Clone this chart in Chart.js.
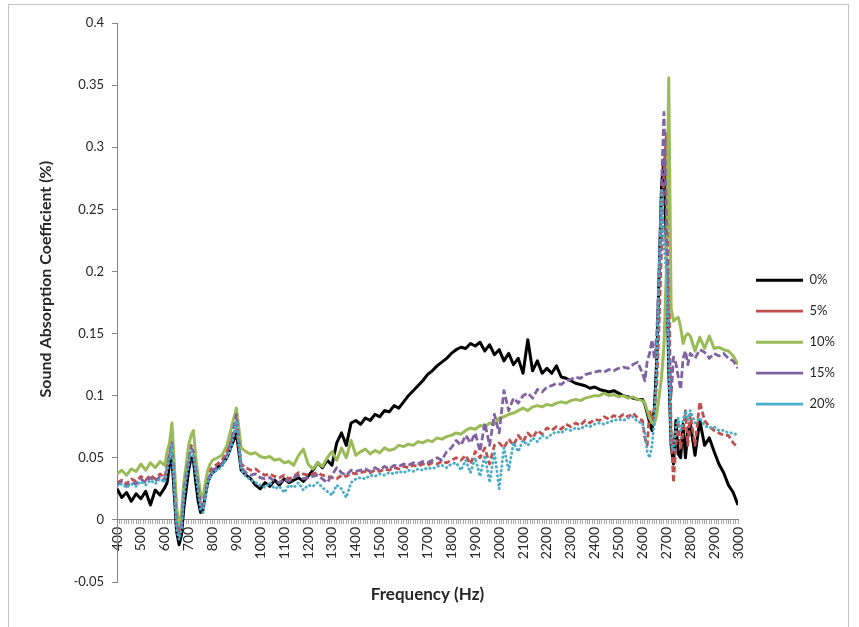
<!DOCTYPE html>
<html><head><meta charset="utf-8">
<script src="https://cdn.jsdelivr.net/npm/chart.js@4"></script>
<style>html,body{margin:0;padding:0;background:#fff}#wrap{width:859px;height:627px;position:relative}</style>
</head><body><div id="wrap"><canvas id="c" width="859" height="627"></canvas></div>
<script>
// Frequencies (Hz)
const freq = [
 400,420,440,460,480,500,520,540,560,580,600,
 610,620,630,640,650,660,670,680,690,700,710,720,730,740,750,760,770,780,790,800,
 820,840,860,880,900,920,940,960,980,1000,
 1020,1040,1060,1080,1100,1120,1140,1160,1180,1200,
 1220,1240,1260,1280,1300,1320,1340,1360,1380,1400,
 1420,1440,1460,1480,1500,1520,1540,1560,1580,1600,
 1620,1640,1660,1680,1700,1720,1740,1760,1780,1800,
 1820,1840,1860,1880,1900,1920,1940,1960,1980,2000,
 2020,2040,2060,2080,2100,2120,2140,2160,2180,2200,
 2220,2240,2260,2280,2300,2320,2340,2360,2380,2400,
 2420,2440,2460,2480,2500,2520,2540,2560,2580,2600,
 2610,2620,2630,2640,2650,2660,2670,2680,2690,2700,2710,2720,2730,2740,2750,2760,2770,2780,2790,
 2800,2820,2840,2860,2880,2900,2920,2940,2960,2980,3000
];
const s0 = [
 0.025,0.018,0.022,0.015,0.021,0.017,0.023,0.012,0.024,0.02,0.026,
 0.03,0.045,0.05,0.02,-0.01,-0.02,-0.012,0.01,0.025,0.04,0.05,0.048,0.03,0.015,0.006,0.008,0.02,0.03,0.035,0.038,
 0.042,0.045,0.05,0.06,0.07,0.04,0.036,0.033,0.028,0.025,
 0.03,0.027,0.032,0.028,0.033,0.03,0.032,0.034,0.031,0.035,
 0.04,0.046,0.042,0.048,0.044,0.062,0.07,0.06,0.078,0.08,
 0.077,0.082,0.08,0.085,0.083,0.088,0.087,0.092,0.09,0.095,
 0.1,0.104,0.108,0.112,0.117,0.12,0.124,0.127,0.13,0.134,
 0.137,0.139,0.138,0.142,0.14,0.143,0.136,0.141,0.133,0.137,
 0.128,0.134,0.125,0.13,0.118,0.145,0.12,0.128,0.118,0.122,
 0.118,0.124,0.115,0.114,0.112,0.11,0.109,0.108,0.106,0.107,
 0.105,0.104,0.103,0.104,0.102,0.1,0.099,0.098,0.097,0.097,
 0.093,0.086,0.078,0.072,0.09,0.13,0.2,0.27,0.29,0.22,0.12,0.06,0.045,0.08,0.053,0.05,0.077,0.05,0.072,
 0.078,0.052,0.08,0.06,0.066,0.055,0.045,0.038,0.028,0.022,0.012
];
const s5 = [
 0.03,0.032,0.029,0.033,0.031,0.035,0.032,0.036,0.033,0.037,0.034,
 0.045,0.055,0.065,0.035,0.0,-0.01,0.0,0.025,0.04,0.05,0.06,0.058,0.045,0.03,0.015,0.012,0.025,0.035,0.04,0.042,
 0.045,0.048,0.055,0.065,0.075,0.045,0.042,0.04,0.041,0.038,
 0.036,0.037,0.035,0.034,0.036,0.033,0.035,0.038,0.037,0.036,
 0.037,0.038,0.036,0.035,0.034,0.033,0.036,0.035,0.038,0.037,
 0.038,0.039,0.038,0.04,0.039,0.041,0.04,0.042,0.041,0.043,
 0.042,0.044,0.043,0.045,0.044,0.046,0.045,0.047,0.046,0.048,
 0.05,0.048,0.052,0.045,0.055,0.05,0.058,0.045,0.06,0.062,
 0.058,0.065,0.06,0.068,0.063,0.07,0.066,0.072,0.069,0.074,
 0.072,0.075,0.073,0.077,0.075,0.078,0.076,0.08,0.078,0.081,
 0.08,0.083,0.081,0.084,0.082,0.085,0.083,0.086,0.082,0.08,
 0.066,0.06,0.088,0.08,0.09,0.11,0.16,0.22,0.28,0.311,0.2,0.07,0.03,0.06,0.077,0.058,0.07,0.088,0.06,
 0.085,0.06,0.095,0.08,0.075,0.072,0.07,0.068,0.068,0.062,0.058
];
const s10 = [
 0.037,0.04,0.036,0.041,0.039,0.045,0.04,0.046,0.042,0.047,0.044,
 0.055,0.062,0.078,0.045,0.01,-0.005,0.005,0.03,0.045,0.06,0.068,0.072,0.05,0.035,0.02,0.018,0.03,0.04,0.045,0.048,
 0.05,0.052,0.06,0.075,0.09,0.058,0.055,0.053,0.054,0.051,
 0.05,0.051,0.048,0.049,0.046,0.047,0.044,0.052,0.057,0.045,
 0.041,0.046,0.043,0.05,0.055,0.048,0.058,0.05,0.064,0.052,
 0.055,0.057,0.053,0.056,0.054,0.058,0.056,0.057,0.06,0.059,
 0.061,0.06,0.063,0.062,0.064,0.063,0.066,0.065,0.067,0.068,
 0.07,0.069,0.072,0.074,0.073,0.076,0.075,0.078,0.077,0.082,
 0.083,0.085,0.086,0.088,0.09,0.088,0.091,0.092,0.091,0.093,
 0.092,0.094,0.095,0.094,0.096,0.097,0.096,0.098,0.099,0.1,
 0.1,0.102,0.1,0.101,0.099,0.1,0.098,0.099,0.097,0.096,
 0.094,0.088,0.082,0.078,0.077,0.085,0.1,0.115,0.14,0.2,0.356,0.17,0.16,0.162,0.163,0.155,0.142,0.148,0.15,
 0.148,0.136,0.147,0.138,0.148,0.138,0.139,0.137,0.136,0.132,0.125
];
const s15 = [
 0.028,0.031,0.027,0.03,0.029,0.033,0.03,0.034,0.031,0.035,0.032,
 0.042,0.052,0.062,0.03,-0.003,-0.012,-0.004,0.022,0.037,0.048,0.058,0.055,0.04,0.027,0.012,0.01,0.022,0.032,0.036,0.04,
 0.042,0.045,0.052,0.065,0.085,0.042,0.038,0.036,0.037,0.034,
 0.033,0.034,0.031,0.03,0.033,0.031,0.034,0.036,0.033,0.034,
 0.035,0.036,0.033,0.03,0.036,0.042,0.038,0.036,0.04,0.039,
 0.04,0.041,0.039,0.042,0.04,0.043,0.041,0.044,0.043,0.045,
 0.044,0.046,0.045,0.047,0.046,0.048,0.05,0.048,0.055,0.058,
 0.064,0.06,0.068,0.062,0.07,0.055,0.078,0.06,0.085,0.07,
 0.104,0.088,0.098,0.094,0.1,0.102,0.098,0.105,0.103,0.107,
 0.108,0.11,0.109,0.112,0.113,0.115,0.114,0.117,0.118,0.119,
 0.12,0.119,0.121,0.12,0.122,0.123,0.122,0.125,0.127,0.118,
 0.112,0.128,0.134,0.145,0.13,0.15,0.2,0.27,0.328,0.25,0.15,0.1,0.131,0.126,0.115,0.105,0.13,0.136,0.125,
 0.134,0.13,0.137,0.135,0.13,0.134,0.132,0.134,0.13,0.128,0.122
];
const s20 = [
 0.027,0.029,0.026,0.029,0.027,0.031,0.028,0.032,0.029,0.033,0.03,
 0.04,0.05,0.06,0.025,-0.008,-0.016,-0.008,0.018,0.033,0.045,0.055,0.052,0.036,0.022,0.008,0.006,0.018,0.03,0.034,0.038,
 0.04,0.043,0.05,0.06,0.08,0.04,0.035,0.032,0.03,0.028,
 0.026,0.03,0.025,0.027,0.022,0.028,0.026,0.03,0.024,0.028,
 0.027,0.03,0.026,0.023,0.02,0.028,0.025,0.018,0.03,0.033,
 0.034,0.033,0.036,0.035,0.037,0.036,0.038,0.037,0.039,0.038,
 0.04,0.039,0.041,0.04,0.042,0.041,0.043,0.044,0.042,0.045,
 0.046,0.04,0.048,0.038,0.05,0.035,0.052,0.03,0.055,0.025,
 0.058,0.04,0.062,0.055,0.064,0.06,0.066,0.063,0.068,0.066,
 0.069,0.071,0.07,0.073,0.072,0.074,0.073,0.076,0.075,0.077,
 0.078,0.077,0.079,0.08,0.081,0.08,0.082,0.083,0.079,0.078,
 0.07,0.055,0.05,0.06,0.08,0.13,0.2,0.265,0.22,0.2,0.12,0.06,0.056,0.075,0.082,0.072,0.08,0.088,0.08,
 0.088,0.078,0.082,0.076,0.074,0.075,0.072,0.072,0.07,0.07,0.068
];
const seriesNames = ['0%', '5%', '10%', '15%', '20%'];
const seriesValues = [s0, s5, s10, s15, s20];
const xRange = {min: 400, max: 3000, labelStep: 100, minorStep: 10};
const yRange = {min: -0.05, max: 0.4, step: 0.05};
const xTitle = 'Frequency (Hz)';
const yTitle = 'Sound Absorption Coefficient (%)';

const styles = [
  {color: '#000000', width: 3, dash: [], cap: 'butt'},
  {color: '#C0504D', width: 2.8, dash: [6, 3], cap: 'butt'},
  {color: '#9BBB59', width: 3, dash: [], cap: 'butt'},
  {color: '#8064A2', width: 2.8, dash: [7, 3], cap: 'butt'},
  {color: '#4BACC6', width: 2.8, dash: [0.5, 4], cap: 'round'}
];

Chart.defaults.font.family = 'Lato, "Liberation Sans", sans-serif';
Chart.defaults.color = '#262626';

const datasets = seriesValues.map((arr, i) => ({
  label: seriesNames[i],
  data: freq.map((f, j) => ({x: f, y: arr[j]})),
  borderColor: styles[i].color,
  backgroundColor: styles[i].color,
  borderWidth: styles[i].width,
  borderDash: styles[i].dash,
  borderCapStyle: styles[i].cap,
  borderJoinStyle: 'round',
  pointRadius: 0,
  tension: 0,
  fill: false,
  order: seriesNames.length - i
}));

const frame = {
  id: 'frame',
  beforeDraw(chart) {
    const c = chart.ctx;
    c.save();
    c.fillStyle = '#ffffff';
    c.fillRect(0, 0, chart.width, chart.height);
    c.strokeStyle = '#c4c4c4';
    c.lineWidth = 1;
    c.strokeRect(8.5, 4.5, 840, 640);
    c.restore();
  }
};

new Chart(document.getElementById('c'), {
  type: 'line',
  data: {datasets},
  plugins: [frame],
  options: {
    responsive: false,
    animation: false,
    devicePixelRatio: 1,
    layout: {padding: {left: 8, top: 23, right: 14, bottom: 45}},
    plugins: {
      tooltip: {enabled: false},
      legend: {
        position: 'right',
        align: 'center',
        title: {display: true, text: ' ', padding: {top: 65, bottom: 0}, font: {size: 12}},
        labels: {
          usePointStyle: true,
          pointStyle: 'line',
          pointStyleWidth: 47,
          padding: 18,
          font: {size: 13},
          color: '#262626',
          sort: (a, b) => a.datasetIndex - b.datasetIndex
        }
      }
    },
    scales: {
      x: {
        type: 'linear',
        position: {y: 0},
        min: xRange.min,
        max: xRange.max,
        afterFit: s => { s.height = 46; },
        ticks: {
          stepSize: xRange.minorStep,
          autoSkip: false,
          minRotation: 90,
          maxRotation: 90,
          padding: 3,
          font: {size: 14},
          color: '#262626',
          callback: v => (Math.round(v) % xRange.labelStep === 0 ? String(Math.round(v)) : '')
        },
        grid: {drawOnChartArea: false, drawTicks: true, tickLength: 4, color: '#a6a6a6'},
        border: {display: true, color: '#868686', width: 1},
        title: {display: true, text: xTitle, font: {size: 17, weight: 'bold'}, color: '#262626', padding: {top: 0, bottom: -39}}
      },
      y: {
        min: yRange.min,
        max: yRange.max,
        afterFit: s => { s.width = 109; },
        ticks: {
          stepSize: yRange.step,
          padding: 8,
          font: {size: 13},
          color: '#262626',
          callback: v => String(Number(v.toFixed(2)))
        },
        grid: {drawOnChartArea: false, drawTicks: true, tickLength: 5, color: '#868686'},
        border: {display: true, color: '#868686', width: 1},
        title: {display: true, text: '\u00a0'.repeat(12) + yTitle, font: {size: 16, weight: 'bold'}, color: '#262626', padding: {top: 28, bottom: 0}}
      }
    }
  }
});
</script>
</body></html>
